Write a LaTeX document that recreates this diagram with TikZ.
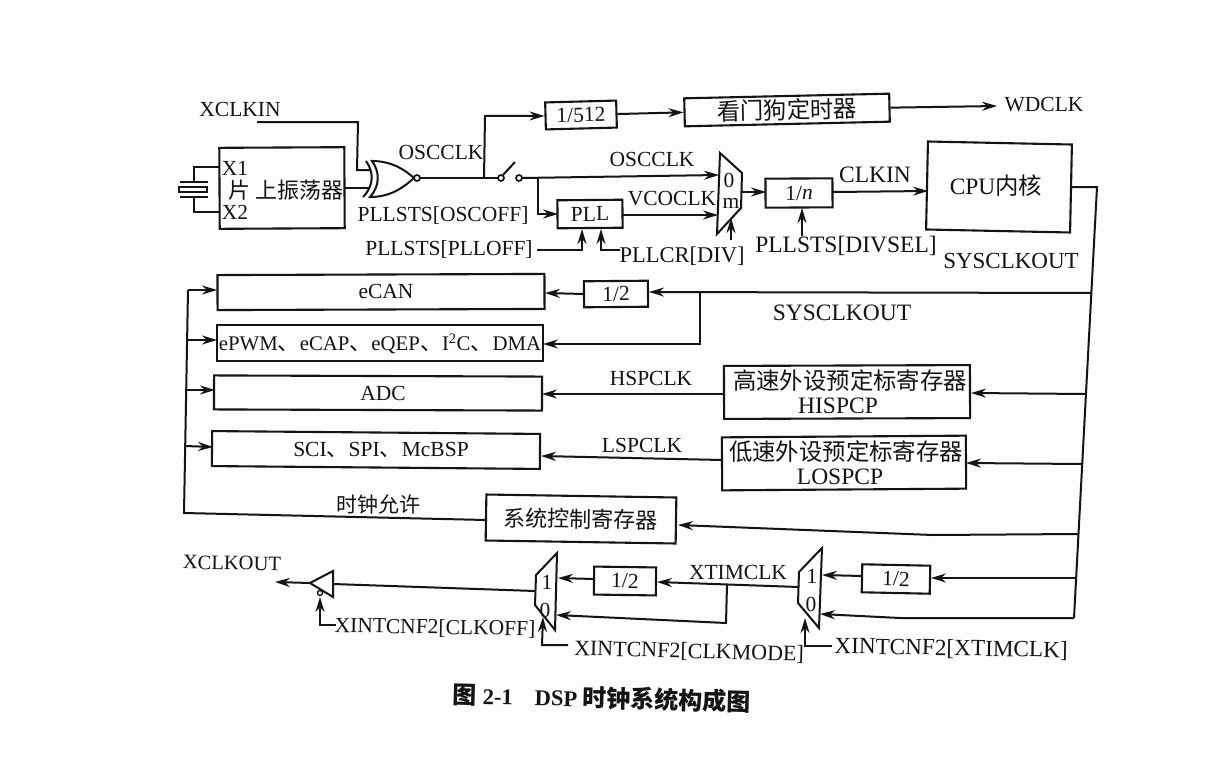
\documentclass[tikz,border=0pt]{standalone}
\usepackage{fontspec}
\setmainfont{Liberation Serif}
\newfontfamily\cjk{Noto Sans CJK SC}
\usetikzlibrary{arrows.meta}
\definecolor{ink}{HTML}{141414}
\definecolor{paper}{HTML}{FDFDFC}
\tikzset{
  wire/.style={draw=ink,line width=2pt,line join=miter},
  arr/.style={wire,-{Stealth[length=15pt,width=9pt,inset=5pt]}},
  blk/.style={draw=ink,line width=2.1pt,inner sep=0pt,text=ink},
  lab/.style={inner sep=0pt,text=ink,font=\fontsize{21.5}{24}\selectfont},
  big/.style={inner sep=0pt,text=ink,font=\fontsize{23.5}{25}\selectfont},
  cn/.style={inner sep=0pt,text=ink,font=\cjk\fontsize{22}{27}\selectfont},
}
\newcommand{\cj}[1]{{\cjk\fontsize{22}{27}\selectfont #1}}
\newcommand{\cjb}[1]{{\cjk\fontsize{23.4}{27}\selectfont #1}}
\begin{document}
\begin{tikzpicture}[x=1pt,y=-1pt]
\useasboundingbox (0,0) rectangle (1215,776);
\fill[paper] (0,0) rectangle (1215,776);

% ---------- blocks
\node[blk,minimum width=125pt,minimum height=81pt,rotate=0.3] (osc) at (282,188) {};
\node[cn] (osctxt) at (286,190) {片\hspace{5pt}上振荡器};
\node[blk,lab,minimum width=71pt,minimum height=27pt,rotate=1.5] (d512) at (581,115) {1/512};
\node[blk,minimum width=205pt,minimum height=28pt,rotate=1.3] (wd) at (787,110) {\cjb{看门狗定时器}};
\node[blk,lab,minimum width=65pt,minimum height=28pt,rotate=0.5] (pll) at (590,214) {PLL};
\node[blk,lab,minimum width=67pt,minimum height=29pt,rotate=0.3] (dn) at (799,193) {1/\textit{n}};
\node[blk,minimum width=144pt,minimum height=88pt,rotate=-1.2] (cpu) at (999,187) {};
\node[big] (cputxt) at (996,186) {CPU\cjb{内核}};
\node[blk,minimum width=327pt,minimum height=35pt,rotate=0.2] (ecan) at (381,292) {};
\node[lab] (ecantxt) at (386,291) {eCAN};
\node[blk,minimum width=326pt,minimum height=36pt] (epwm) at (380,343) {};
\node[lab,font=\fontsize{20.8}{24}\selectfont] (epwmtxt) at (380,344) {ePWM\cj{、}eCAP\cj{、}eQEP\cj{、}I\textsuperscript{2}C\cj{、}DMA};
\node[blk,minimum width=328pt,minimum height=34pt,rotate=-0.2] (adc) at (378,393) {};
\node[lab] (adctxt) at (383,393) {ADC};
\node[blk,minimum width=328pt,minimum height=35pt,rotate=-0.5] (sci) at (376,450) {};
\node[lab] (scitxt) at (381,450) {SCI\cj{、}SPI\cj{、}McBSP};
\node[blk,lab,minimum width=64pt,minimum height=26pt,rotate=0.5] (dcan) at (616,294) {1/2};
\node[blk,minimum width=246pt,minimum height=53pt,rotate=0.2] (hi) at (847,392) {};
\node[inner sep=0pt,text=ink] (hitxt) at (850,381) {\cjb{高速外设预定标寄存器}};
\node[big] (hitxt2) at (838,406) {HISPCP};
\node[blk,minimum width=244pt,minimum height=53pt,rotate=0.4] (lo) at (844,463) {};
\node[inner sep=0pt,text=ink] (lotxt) at (846,452) {\cjb{低速外设预定标寄存器}};
\node[big] (lotxt2) at (840,477) {LOSPCP};
\node[blk,cn,minimum width=190pt,minimum height=46pt,rotate=-0.9] (sys) at (581,519) {系统控制寄存器};
\node[blk,lab,minimum width=62pt,minimum height=28pt,rotate=-0.8] (dl) at (625,581) {1/2};
\node[blk,lab,minimum width=68pt,minimum height=28pt,rotate=-1.2] (dr) at (896,579) {1/2};

% ---------- named points
\coordinate (xin) at (257,122); \coordinate (xinb) at (358,122); \coordinate (xinc) at (357,170); \coordinate (xind) at (371,170);
\coordinate (oscout) at (344,188); \coordinate (xorin) at (370,188);
\coordinate (xorout) at (420,178); \coordinate (swa) at (501,178); \coordinate (swb) at (519,178);
\coordinate (oscj) at (484,178); \coordinate (oscup) at (485,116);
\coordinate (swr) at (522,178); \coordinate (pllj) at (538,178); \coordinate (plld) at (538,214);
\coordinate (pllin) at (558,214); \coordinate (pllout) at (623,215);
\coordinate (m0in) at (719,175); \coordinate (m1in) at (718,215); \coordinate (mout) at (742,192);
\coordinate (dnin) at (766,192); \coordinate (dnout) at (833,192); \coordinate (cpuin) at (928,191);
\coordinate (cpuout) at (1071,187); \coordinate (rt) at (1097,187); \coordinate (rb) at (1074,618);
\coordinate (r1) at (1091,293); \coordinate (r2) at (1086,394); \coordinate (r3) at (1082,464);
\coordinate (r4) at (1078,534); \coordinate (r5) at (1076,578);
\coordinate (c1) at (649,292); \coordinate (cj) at (700,293); \coordinate (cd) at (700,344); \coordinate (e2) at (543,344);
\coordinate (c2) at (584,294); \coordinate (e1) at (545,293);
\coordinate (hin) at (971,393); \coordinate (hout) at (725,394); \coordinate (adcin) at (542,394);
\coordinate (lin) at (966,463); \coordinate (lout) at (722,460); \coordinate (sciin) at (541,456);
\coordinate (sin) at (678,525); \coordinate (s4) at (933,535); \coordinate (sout) at (486,520);
\coordinate (bus0) at (184,513); \coordinate (bus1) at (188,290); \coordinate (bus2) at (187,340); \coordinate (bus3) at (186,390); \coordinate (bus4) at (185,446);
\coordinate (t1) at (217,290); \coordinate (t2) at (217,340); \coordinate (t3) at (215,390); \coordinate (t4) at (213,447);
\coordinate (plloff) at (537,250); \coordinate (plloffb) at (582,250); \coordinate (plloffc) at (582,229);
\coordinate (pllcr) at (620,250); \coordinate (pllcrb) at (601,250); \coordinate (pllcrc) at (601,229);
\coordinate (divb) at (731,240); \coordinate (divc) at (731,218);
\coordinate (dsa) at (802,236); \coordinate (dsb) at (802,208);
\coordinate (x1a) at (220,167); \coordinate (x1b) at (194,167); \coordinate (x1c) at (194,182);
\coordinate (x2a) at (220,212); \coordinate (x2b) at (194,212); \coordinate (x2c) at (194,197);
\coordinate (drin) at (931,578); \coordinate (drout) at (862,576); \coordinate (mr1) at (822,575);
\coordinate (rb2) at (900,618); \coordinate (mr0) at (820,614);
\coordinate (mrout) at (799,587); \coordinate (xj) at (727,585); \coordinate (dlin) at (657,582);
\coordinate (xd) at (726,623); \coordinate (ml0) at (556,615);
\coordinate (dlout) at (594,579); \coordinate (ml1) at (558,578);
\coordinate (mlout) at (535,591); \coordinate (bufin) at (333,584); \coordinate (buft) at (310,583); \coordinate (xout) at (275,582);
\coordinate (cka) at (336,625); \coordinate (ckb) at (320,625); \coordinate (ckc) at (320,597);
\coordinate (mda) at (568,645); \coordinate (mdb) at (542,645); \coordinate (mdc) at (543,617);
\coordinate (xta) at (832,646); \coordinate (xtb) at (805,646); \coordinate (xtc) at (805,618);

% ---------- muxes
\draw[wire] (720,153) -- (742,173) -- (741,208) -- (717,234) -- cycle;
\draw[wire] (557,553) -- (536,575) -- (535,605) -- (555,630) -- cycle;
\draw[wire] (822,548) -- (799,572) -- (798,603) -- (819,628) -- cycle;

% ---------- XOR gate, switch, crystal, buffer
\draw[wire] (372,161) .. controls (392,161) and (405,170) .. (414,178) .. controls (405,186) and (392,197) .. (370,197)
            .. controls (380,186) and (380,172) .. cycle;
\draw[wire] (366,161) .. controls (374,172) and (374,186) .. (363,197);
\draw[draw=ink,line width=1.7pt,fill=paper] (417,178) circle (3pt);
\draw[draw=ink,line width=1.7pt,fill=paper] (501,178) circle (3pt);
\draw[draw=ink,line width=1.7pt,fill=paper] (519,178) circle (3pt);
\draw[wire] (503,175) -- (515,162);
\draw[wire] (x1a) -- (x1b) -- (x1c);
\draw[wire] (x2a) -- (x2b) -- (x2c);
\draw[wire] (180,182) -- (208,182);
\draw[wire] (180,197) -- (208,197);
\draw[wire] (179,187) rectangle (207,192);
\draw[wire] (buft) -- (333,571) -- (333,597) -- cycle;
\draw[draw=ink,line width=1.4pt,fill=paper] (320,593) circle (2.5pt);

% ---------- connectors
\draw[wire] (xin) -- (xinb) -- (xinc) -- (xind);
\draw[wire] (oscout) -- (xorin);
\draw[wire] (xorout) -- (498,178);
\draw[arr] (oscj) -- (oscup) -- (d512.west);
\draw[arr] (d512.east) -- (wd.west);
\draw[arr] (wd.east) -- (997,106);
\draw[arr] (swr) -- (m0in);
\draw[arr] (pllj) -- (plld) -- (pllin);
\draw[arr] (pllout) -- (m1in);
\draw[arr] (mout) -- (dnin);
\draw[arr] (dnout) -- (cpuin);
\draw[wire] (cpuout) -- (rt) -- (rb);
\draw[arr] (r1) -- (c1);
\draw[arr] (cj) -- (cd) -- (e2);
\draw[arr] (c2) -- (e1);
\draw[arr] (r2) -- (hin);
\draw[arr] (hout) -- (adcin);
\draw[arr] (r3) -- (lin);
\draw[arr] (lout) -- (sciin);
\draw[arr] (r4) -- (s4) -- (sin);
\draw[wire] (sout) -- (bus0) -- (bus1);
\draw[arr] (bus1) -- (t1);
\draw[arr] (bus2) -- (t2);
\draw[arr] (bus3) -- (t3);
\draw[arr] (bus4) -- (t4);
\draw[arr] (plloff) -- (plloffb) -- (plloffc);
\draw[arr] (pllcr) -- (pllcrb) -- (pllcrc);
\draw[arr] (divb) -- (divc);
\draw[arr] (dsa) -- (dsb);
\draw[arr] (r5) -- (drin);
\draw[arr] (drout) -- (mr1);
\draw[arr] (rb) -- (rb2) -- (mr0);
\draw[arr] (mrout) -- (dlin);
\draw[arr] (xj) -- (xd) -- (ml0);
\draw[arr] (dlout) -- (ml1);
\draw[wire] (mlout) -- (bufin);
\draw[arr] (buft) -- (xout);
\draw[arr] (cka) -- (ckb) -- (ckc);
\draw[arr] (mda) -- (mdb) -- (mdc);
\draw[arr] (xta) -- (xtb) -- (xtc);

% ---------- labels
\node[lab] (l1) at (240,109) {XCLKIN};
\node[lab] (l2) at (235,168) {X1};
\node[lab] (l3) at (235,212) {X2};
\node[lab] (l4) at (441,152) {OSCCLK};
\node[lab] (l5) at (443,215) {PLLSTS[OSCOFF]};
\node[lab] (l6) at (449,249) {PLLSTS[PLLOFF]};
\node[lab] (l7) at (1044,105) {WDCLK};
\node[lab] (l8) at (652,159) {OSCCLK};
\node[lab] (l9) at (672,199) {VCOCLK};
\node[lab] (l10) at (729,180) {0};
\node[lab] (l11) at (731,203) {m};
\node[lab,font=\fontsize{22.5}{24}\selectfont] (l12) at (682,256) {PLLCR[DIV]};
\node[big] (l13) at (846,246) {PLLSTS[DIVSEL]};
\node[big] (l14) at (875,175) {CLKIN};
\node[big,font=\fontsize{23}{25}\selectfont] (l15) at (1011,261) {SYSCLKOUT};
\node[big] (l16) at (842,313) {SYSCLKOUT};
\node[lab] (l17) at (651,378) {HSPCLK};
\node[lab] (l18) at (642,445) {LSPCLK};
\node[cn,font=\cjk\fontsize{21}{27}\selectfont] (l19) at (378,504) {时钟允许};
\node[lab] (l20) at (738,572) {XTIMCLK};
\node[lab,rotate=-1,font=\fontsize{20.5}{24}\selectfont] (l21) at (232,563) {XCLKOUT};
\node[lab,rotate=-1] (l22) at (435,628) {XINTCNF2[CLKOFF]};
\node[lab,rotate=-1.5,font=\fontsize{22}{24}\selectfont] (l23) at (689,652) {XINTCNF2[CLKMODE]};
\node[big,rotate=-1,font=\fontsize{23.2}{24}\selectfont] (l24) at (951,649) {XINTCNF2[XTIMCLK]};
\node[lab] (l25) at (547,582) {1};
\node[lab] (l26) at (545,610) {0};
\node[lab] (l27) at (812,576) {1};
\node[lab] (l28) at (811,604) {0};
\node[big,rotate=-1.5,font=\bfseries\fontsize{22.5}{25}\selectfont] (cap) at (602,698) {{\cjk\fontsize{24}{27}\selectfont 图} 2-1\hspace{22pt}DSP {\cjk\fontsize{24}{27}\selectfont 时钟系统构成图}};
\end{tikzpicture}
\end{document}
